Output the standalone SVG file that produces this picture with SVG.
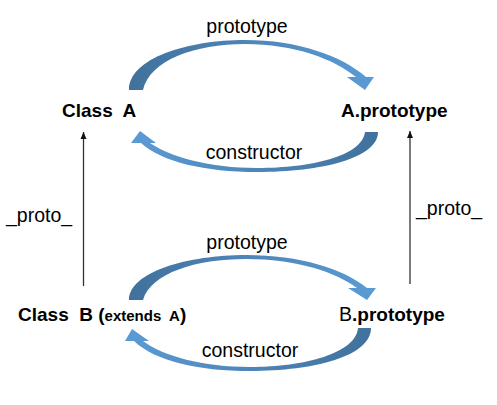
<svg xmlns="http://www.w3.org/2000/svg" width="497" height="405" viewBox="0 0 497 405">
<style>
.node{font-family:"Liberation Sans",Arial,sans-serif;font-weight:bold;font-size:19px;fill:#000}
.lbl{font-family:"Liberation Sans",Arial,sans-serif;font-size:19.5px;fill:#000}
.vline{stroke:#333;stroke-width:1.3;fill:none;marker-end:url(#ah)}
</style>
<defs>
<linearGradient id="gR" x1="0" y1="0" x2="1" y2="0">
<stop offset="0" stop-color="#41719c"/>
<stop offset="1" stop-color="#5b9bd5"/>
</linearGradient>
<linearGradient id="gL" x1="1" y1="0" x2="0" y2="0">
<stop offset="0" stop-color="#41719c"/>
<stop offset="1" stop-color="#5b9bd5"/>
</linearGradient>
<marker id="ah" markerWidth="8" markerHeight="8" refX="7" refY="4" orient="auto" markerUnits="userSpaceOnUse">
<path d="M0,1 L7,4 L0,7 Z" fill="#111"/>
</marker>
</defs>
<g id="connectors">
<path id="protoA" fill="url(#gR)" d="M129,90 C129,58 188,40 245,40 C298,40 342,56 366,77 L374,77 L365,90 L347,77 L356,77 C334,59 294,44 245,44 C195,44 150,60 143,90 Z"/>
<path id="ctorA" fill="url(#gL)" d="M378,132 C378,158 322,172 257,172 C205,172 162,162 141,143 L131,143 L140,131 L156,143 L150,143 C170,157 210,168 257,168 C312,168 362,156 365,132 Z"/>
<path id="protoB" fill="url(#gR)" d="M129,300 C129,272 188,255 246,255 C300,255 344,269 367,288 L376,288 L367,300 L348,288 L357,288 C336,272 296,259 246,259 C196,259 151,273 143,300 Z"/>
<path id="ctorB" fill="url(#gL)" d="M371,328 C371,356 315,371 250,371 C198,371 155,361 134,341 L125,341 L132,329 L149,341 L143,341 C163,356 203,367 250,367 C305,367 356,353 358,328 Z"/>
<line class="vline" x1="83.5" y1="286" x2="83.5" y2="132"/>
<line class="vline" x1="410" y1="284" x2="410" y2="131"/>
<text class="lbl" x="247" y="33" text-anchor="middle">prototype</text>
<text class="lbl" x="254" y="159" text-anchor="middle">constructor</text>
<text class="lbl" x="247" y="249" text-anchor="middle">prototype</text>
<text class="lbl" x="250" y="357" text-anchor="middle">constructor</text>
<text class="lbl" x="6" y="221.5">_proto_</text>
<text class="lbl" x="416" y="215">_proto_</text>
</g>
<g id="classA">
<text class="node" x="62" y="117" xml:space="preserve">Class  A</text>
</g>
<g id="aPrototype">
<text class="node" x="341" y="117">A.prototype</text>
</g>
<g id="classB">
<text class="node" x="18" y="321" xml:space="preserve">Class  B (<tspan font-size="15px">extends  A</tspan>)</text>
</g>
<g id="bPrototype">
<text class="node" x="339" y="321"><tspan font-weight="normal" font-size="19.5px">B</tspan>.prototype</text>
</g>
</svg>
